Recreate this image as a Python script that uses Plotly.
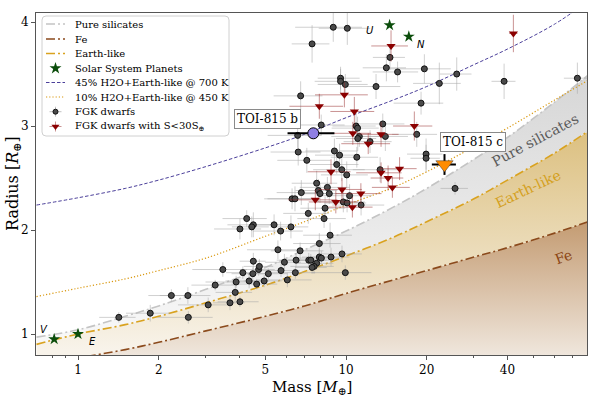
import math
import plotly.graph_objects as go

# ---------------- model curves ----------------
model_mass = [0.7, 1, 1.5, 2, 3, 5, 7, 10, 15, 20, 30, 40, 60, 80]
fe_radius = [0.71, 0.77, 0.85, 0.92, 1.03, 1.17, 1.27, 1.39, 1.52, 1.61, 1.74, 1.83, 1.97, 2.08]
earth_radius = [0.90, 1.00, 1.09, 1.17, 1.30, 1.47, 1.60, 1.75, 1.93, 2.08, 2.30, 2.48, 2.74, 2.95]
silicate_radius = [0.97, 1.04, 1.17, 1.27, 1.43, 1.64, 1.81, 1.99, 2.22, 2.40, 2.68, 2.89, 3.23, 3.49]
h2o45_radius = [2.24, 2.31, 2.40, 2.48, 2.61, 2.79, 2.92, 3.08, 3.25, 3.38, 3.59, 3.74, 3.98, 4.20]
h2o10_radius = [1.36, 1.44, 1.53, 1.61, 1.73, 1.94, 2.08, 2.24, 2.41, 2.56, 2.80, 2.98, 3.25, 3.44]

# ---------------- FGK dwarfs ----------------
fgk_mass = [1.42, 1.86, 2.23, 2.57, 2.58, 3.06, 3.25, 3.47, 3.69, 3.86, 3.89, 4.02, 4.12, 4.35, 4.49,
            4.51, 4.64, 4.72, 4.75, 4.95, 5.13, 5.57, 5.72, 5.89, 6.04, 6.47, 6.51, 6.74, 7.26, 7.39,
            7.95, 8.09, 8.79, 7.77, 7.60, 7.47, 9.66, 9.94,
            4.02, 4.51, 4.45, 4.26, 5.39, 5.70, 6.23, 8.72, 7.95, 10.06, 7.77, 8.52, 7.88, 8.00, 8.66,
            6.81, 10.31, 6.29, 6.45, 9.77, 10.09, 11.38, 8.35, 7.23, 8.28, 9.05, 9.46, 7.14, 10.97,
            9.23, 9.64, 6.63, 6.60, 8.08, 10.90, 11.04, 11.21, 11.06, 12.29, 6.77, 9.54, 9.54, 9.94,
            12.94, 7.47, 8.96, 10.11, 14.59, 14.14, 15.57, 19.60, 25.88, 22.29, 38.88, 72.97, 19.05,
            13.71, 14.02, 18.36, 19.89, 19.89, 13.40, 25.51]
fgk_radius = [1.16, 1.20, 1.37, 1.37, 1.16, 1.28, 1.47, 1.62, 1.30, 1.40, 1.50, 1.31, 1.59, 1.51, 1.58,
              1.70, 1.48, 1.62, 1.65, 1.51, 1.58, 1.81, 1.61, 1.69, 1.52, 1.59, 1.71, 1.80, 1.71, 1.71,
              1.74, 1.73, 1.74, 1.68, 1.65, 1.64, 1.77, 1.59,
              2.01, 2.05, 2.03, 2.11, 2.05, 1.99, 2.03, 1.95, 1.87, 2.53, 2.45, 2.41, 2.38, 2.35, 2.35,
              2.36, 2.33, 2.30, 2.30, 2.27, 2.26, 2.24, 2.21, 2.16, 2.11, 2.76, 2.72, 2.67, 2.70,
              2.63, 2.58, 2.75, 2.91, 3.01, 3.00, 2.98, 2.90, 2.88, 2.85, 3.29, 3.46, 3.43, 3.40,
              3.38, 3.79, 3.95, 3.94, 3.66, 3.56, 3.52, 3.55, 3.50, 3.41, 3.43, 3.46, 3.22,
              3.02, 2.90, 2.92, 2.73, 2.69, 2.58, 2.40]
fgk_mass_err = [0.22, 0.35, 0.40, 0.55, 0.60, 0.70, 0.60, 0.80, 0.50, 0.60, 0.90, 0.70, 0.55, 0.80, 0.75,
                0.50, 0.90, 0.70, 0.60, 0.80, 0.90, 1.30, 1.00, 0.90, 1.40, 1.20, 1.00, 1.50, 1.20, 1.30,
                1.10, 1.60, 1.50, 1.20, 1.40, 1.00, 1.80, 2.50,
                0.80, 0.90, 0.70, 0.80, 1.00, 1.20, 1.00, 1.80, 1.60, 2.00, 1.50, 1.80, 1.40, 1.20, 1.70,
                1.30, 2.20, 1.20, 1.50, 2.00, 1.80, 2.50, 1.60, 1.40, 1.70, 2.00, 1.80, 1.60, 2.20,
                1.90, 2.10, 1.40, 1.50, 1.80, 2.00, 2.20, 2.40, 1.90, 2.50, 1.40, 1.70, 1.90, 2.10,
                3.00, 1.20, 2.50, 2.20, 2.00, 2.60, 3.00, 5.00, 3.50, 4.50, 4.00, 8.00, 4.00,
                2.80, 3.00, 3.50, 3.00, 2.50, 2.80, 3.00]
fgk_radius_err = [0.05, 0.08, 0.06, 0.08, 0.06, 0.07, 0.05, 0.07, 0.07, 0.08, 0.06, 0.05, 0.06, 0.07, 0.06,
                  0.08, 0.05, 0.06, 0.07, 0.06, 0.05, 0.09, 0.06, 0.08, 0.07, 0.06, 0.07, 0.08, 0.07, 0.06,
                  0.08, 0.07, 0.09, 0.06, 0.07, 0.06, 0.08, 0.07,
                  0.10, 0.12, 0.10, 0.08, 0.10, 0.09, 0.11, 0.12, 0.10, 0.13, 0.12, 0.10, 0.11, 0.09, 0.10,
                  0.12, 0.11, 0.10, 0.12, 0.10, 0.09, 0.10, 0.11, 0.10, 0.09, 0.12, 0.11, 0.12, 0.10,
                  0.09, 0.11, 0.13, 0.12, 0.10, 0.12, 0.11, 0.10, 0.12, 0.11, 0.14, 0.11, 0.12, 0.10,
                  0.12, 0.18, 0.14, 0.16, 0.12, 0.13, 0.10, 0.14, 0.16, 0.20, 0.17, 0.15, 0.11,
                  0.10, 0.14, 0.12, 0.15, 0.13, 0.12, 0.06]

# ---------------- FGK dwarfs with S < 30 S_earth ----------------
low_s_mass = [42.11, 14.72, 9.86, 7.95, 10.74, 17.98, 10.60, 13.51, 12.10, 8.79, 13.51, 14.35, 15.84,
              14.89, 9.66, 11.36, 7.68, 9.16, 10.56]
low_s_radius = [3.89, 3.77, 3.30, 3.19, 3.14, 3.00, 2.93, 2.92, 2.83, 2.56, 2.55, 2.50, 2.59,
                2.41, 2.39, 2.35, 2.29, 2.27, 2.22]
low_s_mass_err = [1.5, 2.3, 2.2, 1.8, 2.0, 3.0, 1.8, 2.2, 2.5, 1.6, 2.6, 2.0, 2.5, 2.4, 1.8, 2.2, 1.6, 1.9, 2.0]
low_s_radius_err = [0.18, 0.15, 0.12, 0.12, 0.14, 0.14, 0.11, 0.12, 0.10, 0.12, 0.10, 0.12, 0.11,
                    0.10, 0.11, 0.10, 0.10, 0.11, 0.10]

# ---------------- Solar system ----------------
solar_names = ["V", "E", "U", "N"]
solar_mass = [0.815, 1.0, 14.54, 17.15]
solar_radius = [0.95, 1.0, 3.97, 3.86]
solar_label_mass = [0.748, 1.128, 12.29, 19.0]
solar_label_radius = [1.04, 0.93, 3.92, 3.78]

# ---------------- TOI-815 ----------------
toi_names = ["TOI-815 b", "TOI-815 c"]
toi_mass = [7.55, 23.3]
toi_radius = [2.93, 2.63]
toi_mass_err = [1.5, 2.4]
toi_radius_err = [0.03, 0.10]
toi_label_mass = [5.10, 29.8]
toi_label_radius = [3.07, 2.85]

# model labels
model_labels = ["Pure silicates", "Earth-like", "Fe"]
model_label_mass = [50.7, 47.6, 64.5]
model_label_radius = [2.87, 2.39, 1.74]

legend_labels = ["Pure silicates", "Fe", "Earth-like", "Solar System Planets",
                 "45% H2O+Earth-like @ 700 K", "10% H2O+Earth-like @ 450 K",
                 "FGK dwarfs", "FGK dwarfs with S<30S<sub>⊕</sub>"]

SERIF = "DejaVu Serif"
W, H = 600, 398
ML, MR, MT, MB = 36, 13, 13, 43
PW, PH = W - ML - MR, H - MT - MB


def px2paper_x(px):
    return (px - ML) / PW


def px2paper_y(py):
    return (H - MB - py) / PH


fig = go.Figure()
dd = "9px,3px,2px,3px"
sil_col, fe_col, earth_col = "#c4c4c4", "#8b4a1c", "#d9a21f"
h45_col, h10_col = "#4b3f9a", "#d9980f"
gray_mk, red_mk, star_col = "#4a4a4a", "#8b0000", "#0b4d0b"

# fills
fig.add_trace(go.Scatter(x=model_mass, y=fe_radius, mode="lines", fill="tozeroy",
                         line=dict(color="rgba(0,0,0,0)", width=0, shape="spline"), showlegend=False, hoverinfo="skip",
                         fillgradient=dict(type="vertical", start=0.8, stop=2.1,
                                           colorscale=[[0, "#efe6dc"], [1, "#c39a70"]])))
fig.add_trace(go.Scatter(x=model_mass, y=earth_radius, mode="lines", fill="tonexty",
                         line=dict(color="rgba(0,0,0,0)", width=0, shape="spline"), showlegend=False, hoverinfo="skip",
                         fillgradient=dict(type="vertical", start=0.85, stop=2.95,
                                           colorscale=[[0, "#f8f3ea"], [1, "#dcc080"]])))
fig.add_trace(go.Scatter(x=model_mass, y=silicate_radius, mode="lines", fill="tonexty",
                         line=dict(color="rgba(0,0,0,0)", width=0, shape="spline"), showlegend=False, hoverinfo="skip",
                         fillgradient=dict(type="vertical", start=0.95, stop=3.5,
                                           colorscale=[[0, "#f8f8f8"], [1, "#d6d6d6"]])))

# lines
fig.add_trace(go.Scatter(x=model_mass, y=silicate_radius, mode="lines", showlegend=False,
                         line=dict(color=sil_col, width=1.6, dash=dd, shape="spline")))
fig.add_trace(go.Scatter(x=model_mass, y=fe_radius, mode="lines", showlegend=False,
                         line=dict(color=fe_col, width=1.6, dash=dd, shape="spline")))
fig.add_trace(go.Scatter(x=model_mass, y=earth_radius, mode="lines", showlegend=False,
                         line=dict(color=earth_col, width=1.6, dash=dd, shape="spline")))
fig.add_trace(go.Scatter(x=model_mass, y=h2o45_radius, mode="lines", showlegend=False,
                         line=dict(color=h45_col, width=1, dash="3.5px,2px", shape="spline")))
fig.add_trace(go.Scatter(x=model_mass, y=h2o10_radius, mode="lines", showlegend=False,
                         line=dict(color=h10_col, width=1.2, dash="1.2px,2px", shape="spline")))

# data
fig.add_trace(go.Scatter(x=fgk_mass, y=fgk_radius, mode="markers", showlegend=False,
                         marker=dict(symbol="circle", size=6, color=gray_mk, line=dict(color="#111", width=1)),
                         error_x=dict(type="data", array=fgk_mass_err, color="rgba(170,170,170,0.55)", thickness=1, width=0),
                         error_y=dict(type="data", array=fgk_radius_err, color="rgba(170,170,170,0.55)", thickness=1, width=0)))
fig.add_trace(go.Scatter(x=low_s_mass, y=low_s_radius, mode="markers", showlegend=False,
                         marker=dict(symbol="triangle-down", size=8, color=red_mk, line=dict(width=0)),
                         error_x=dict(type="data", array=low_s_mass_err, color="rgba(150,40,40,0.5)", thickness=1, width=0),
                         error_y=dict(type="data", array=low_s_radius_err, color="rgba(150,40,40,0.5)", thickness=1, width=0)))
fig.add_trace(go.Scatter(x=solar_mass, y=solar_radius, mode="markers", showlegend=False,
                         marker=dict(symbol="star", size=9, color=star_col, line=dict(width=0))))

# TOI-815
fig.add_trace(go.Scatter(x=[toi_mass[0]], y=[toi_radius[0]], mode="markers", showlegend=False,
                         marker=dict(symbol="circle", size=11, color="#8f7fe3", line=dict(color="black", width=1)),
                         error_x=dict(type="data", array=[toi_mass_err[0]], color="black", thickness=2, width=0),
                         error_y=dict(type="data", array=[toi_radius_err[0]], color="black", thickness=2, width=0)))
fig.add_trace(go.Scatter(x=[toi_mass[1]], y=[toi_radius[1]], mode="markers", showlegend=False,
                         marker=dict(symbol="triangle-down", size=15, color="#ff8c00", line=dict(color="#333", width=0.5)),
                         error_x=dict(type="data", array=[toi_mass_err[1]], color="black", thickness=2, width=0),
                         error_y=dict(type="data", array=[toi_radius_err[1]], color="black", thickness=2, width=0)))

annotations = []
shapes = []
for n, m, r in zip(toi_names, toi_label_mass, toi_label_radius):
    annotations.append(dict(x=math.log10(m), y=r, text=n, showarrow=False, xref="x", yref="y",
                            font=dict(family=SERIF, size=12, color="black"), bgcolor="white",
                            bordercolor="#8a8a8a", borderwidth=1, borderpad=2))
for n, m, r in zip(solar_names, solar_label_mass, solar_label_radius):
    annotations.append(dict(x=math.log10(m), y=r, text="<i>" + n + "</i>", showarrow=False,
                            font=dict(family="DejaVu Sans", size=10, color="black")))
label_colors = ["#5a5a5a", "#d4a020", "#8b4513"]
label_angles = [-28, -25, -20]
for n, m, r, c, a in zip(model_labels, model_label_mass, model_label_radius, label_colors, label_angles):
    annotations.append(dict(x=math.log10(m), y=r, text=n, showarrow=False, textangle=a,
                            font=dict(family=SERIF, size=14, color=c)))

# ---------------- custom legend (compact, like matplotlib) ----------------
bx0, bx1, by0, by1 = px2paper_x(42), px2paper_x(229), px2paper_y(136), px2paper_y(16)
rx, ry = 4 / PW, 4 / PH
path = (f"M {bx0+rx},{by0} L {bx1-rx},{by0} Q {bx1},{by0} {bx1},{by0+ry} "
        f"L {bx1},{by1-ry} Q {bx1},{by1} {bx1-rx},{by1} L {bx0+rx},{by1} "
        f"Q {bx0},{by1} {bx0},{by1-ry} L {bx0},{by0+ry} Q {bx0},{by0} {bx0+rx},{by0} Z")
shapes.append(dict(type="path", path=path, xref="paper", yref="paper", layer="below",
                   fillcolor="rgba(255,255,255,0.85)", line=dict(color="#d0d0d0", width=1)))
row_y = [24, 39, 53.5, 68.3, 82.5, 97, 111.7, 126.5]
sym_x0, sym_x1, sym_xc, txt_x = 46, 65, 55.5, 73
line_styles = {0: (sil_col, dd, 1.6), 1: (fe_col, dd, 1.6), 2: (earth_col, dd, 1.6),
               4: (h45_col, "3.5px,2px", 1), 5: (h10_col, "1.2px,2px", 1.2)}
for i, lab in enumerate(legend_labels):
    yy = px2paper_y(row_y[i])
    if i in line_styles:
        col, dsh, wd = line_styles[i]
        shapes.append(dict(type="line", xref="paper", yref="paper", layer="above",
                           x0=px2paper_x(sym_x0), x1=px2paper_x(sym_x1), y0=yy, y1=yy,
                           line=dict(color=col, width=wd, dash=dsh)))
    annotations.append(dict(x=px2paper_x(txt_x), y=yy, xref="paper", yref="paper", text=lab,
                            showarrow=False, xanchor="left", yanchor="middle",
                            font=dict(family=SERIF, size=10, color="black")))

leg_x = px2paper_x(sym_xc)
fig.add_trace(go.Scatter(x=[leg_x], y=[px2paper_y(row_y[3])], xaxis="x2", yaxis="y2", mode="markers",
                         showlegend=False, hoverinfo="skip",
                         marker=dict(symbol="star", size=9, color=star_col)))
fig.add_trace(go.Scatter(x=[leg_x], y=[px2paper_y(row_y[6])], xaxis="x2", yaxis="y2", mode="markers",
                         showlegend=False, hoverinfo="skip",
                         marker=dict(symbol="circle", size=5, color=gray_mk, line=dict(color="#111", width=1)),
                         error_x=dict(type="constant", value=6 / PW, color="rgba(170,170,170,0.7)", thickness=1, width=0),
                         error_y=dict(type="constant", value=5 / PH, color="rgba(170,170,170,0.7)", thickness=1, width=0)))
fig.add_trace(go.Scatter(x=[leg_x], y=[px2paper_y(row_y[7])], xaxis="x2", yaxis="y2", mode="markers",
                         showlegend=False, hoverinfo="skip",
                         marker=dict(symbol="triangle-down", size=7, color=red_mk),
                         error_x=dict(type="constant", value=6 / PW, color="rgba(150,40,40,0.5)", thickness=1, width=0),
                         error_y=dict(type="constant", value=5 / PH, color="rgba(150,40,40,0.5)", thickness=1, width=0)))

# axis titles
annotations.append(dict(x=px2paper_x(13), y=0.5, xref="paper", yref="paper", text="Radius [<i>R</i><sub>⊕</sub>]",
                        showarrow=False, textangle=-90, xanchor="center", yanchor="middle",
                        font=dict(family=SERIF, size=16, color="black")))
annotations.append(dict(x=0.5, y=px2paper_y(387), xref="paper", yref="paper", text="Mass [<i>M</i><sub>⊕</sub>]",
                        showarrow=False, xanchor="center", yanchor="middle",
                        font=dict(family=SERIF, size=15, color="black")))

fig.update_layout(
    width=W, height=H,
    margin=dict(l=ML, r=MR, t=MT, b=MB, autoexpand=False),
    paper_bgcolor="white", plot_bgcolor="white",
    font=dict(family=SERIF, size=12, color="black"),
    showlegend=False,
    annotations=annotations,
    shapes=shapes,
    xaxis2=dict(overlaying="x", range=[0, 1], visible=False, fixedrange=True),
    yaxis2=dict(overlaying="y", range=[0, 1], visible=False, fixedrange=True),
)
fig.layout.xaxis.update(type="log", range=[-0.1567, 1.899], showgrid=False, zeroline=False, automargin=False,
                        showline=True, mirror=True, linecolor="#555555", linewidth=1,
                        ticks="outside", ticklen=4, tickcolor="#555555",
                        tickvals=[1, 2, 5, 10, 20, 40], ticktext=["1", "2", "5", "10", "20", "40"],
                        tickfont=dict(family=SERIF, size=12),
                        minor=dict(ticks="outside", ticklen=2, tickcolor="#555555",
                                   tickvals=[0.8, 0.9, 3, 4, 6, 7, 8, 9, 30, 50, 60, 70]))
fig.layout.yaxis.update(range=[0.798, 4.087], showgrid=False, zeroline=False, automargin=False,
                        showline=True, mirror=True, linecolor="#555555", linewidth=1,
                        ticks="outside", ticklen=4, tickcolor="#555555",
                        tickvals=[1, 2, 3, 4], tickfont=dict(family=SERIF, size=12))

fig.write_html("out.html", config={"displayModeBar": False},
               post_script="document.body.style.margin='0';document.body.style.padding='0';"
                           "document.body.style.overflow='hidden';")
